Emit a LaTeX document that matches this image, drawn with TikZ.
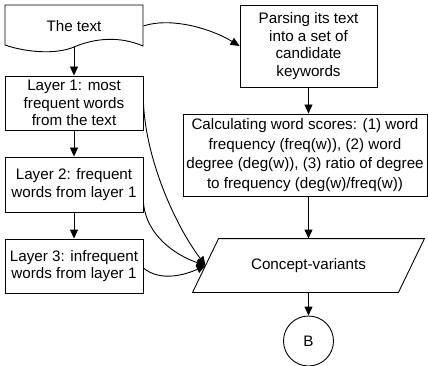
\documentclass[tikz,border=0pt]{standalone}
\usepackage{fontspec}
\setmainfont{Liberation Sans}
\usetikzlibrary{arrows.meta,calc}
\begin{document}
\begin{tikzpicture}[x=1pt,y=-1pt, line width=0.9pt,
  txt/.style={font=\fontsize{15.2}{17.5}\selectfont},
  box/.style={draw, rectangle, align=center, inner sep=0pt, txt},
  plain/.style={rectangle, align=center, inner sep=0pt, txt},
  arr/.style={-{Triangle[length=9pt,width=8pt]}}]
\useasboundingbox (0,0) rectangle (428,366);
% document shape
\node[plain, minimum width=138pt, minimum height=42pt] (doc) at (74,26) {The text};
\draw (5,5) -- (143,5) -- (143,46) .. controls (120,36) and (95,38) .. (74,47)
      .. controls (55,55) and (25,52) .. (5,45) -- cycle;
\node[box, minimum width=138pt, minimum height=54pt] (l1) at (74,103) {Layer 1: most\\frequent words\\from the text};
\node[box, minimum width=138pt, minimum height=55pt] (l2) at (74,184.5) {Layer 2: frequent\\words from layer 1};
\node[box, minimum width=138pt, minimum height=54pt] (l3) at (74,266) {Layer 3: infrequent\\words from layer 1};
\node[box, minimum width=137pt, minimum height=82pt] (parse) at (308.5,46) {Parsing its text\\into a set of\\candidate\\keywords};
\node[box, minimum width=244pt, minimum height=82pt, font=\fontsize{15.2}{19.5}\selectfont] (calc) at (305,155) {Calculating word scores: (1) word\\frequency (freq(w)), (2) word\\degree (deg(w)), (3) ratio of degree\\to frequency (deg(w)/freq(w))};
\node[plain, minimum width=205pt, minimum height=53pt] (cv) at (308.5,265.5) {Concept-variants};
\draw ($(cv.south west)+(-13,0)$) -- ($(cv.north west)+(13,0)$) -- ($(cv.north east)+(13,0)$) -- ($(cv.south east)+(-13,0)$) -- cycle;
\node[draw, circle, minimum size=50pt, inner sep=0pt, txt] (b) at (308.5,341) {B};
% connectors
\draw[arr] (doc) -- (l1);
\draw[arr] (l1) -- (l2);
\draw[arr] (l2) -- (l3);
\draw[arr] (parse.south) -- (parse.south |- calc.north);
\draw[arr] (cv.north |- calc.south) -- (cv.north);
\draw[arr] (cv) -- (b);
\draw[arr] (doc.east) .. controls (170,17) and (210,28) .. (parse.west);
\draw[arr] (l1.east) .. controls (146,160) and (175,225) .. (cv.west);
\draw[arr] ($(l2.east)+(0,18)$) .. controls (146,235) and (175,255) .. (cv.west);
\draw[arr] ($(l3.east)+(0,2)$) .. controls (160,282) and (185,275) .. (cv.west);
\end{tikzpicture}
\end{document}
